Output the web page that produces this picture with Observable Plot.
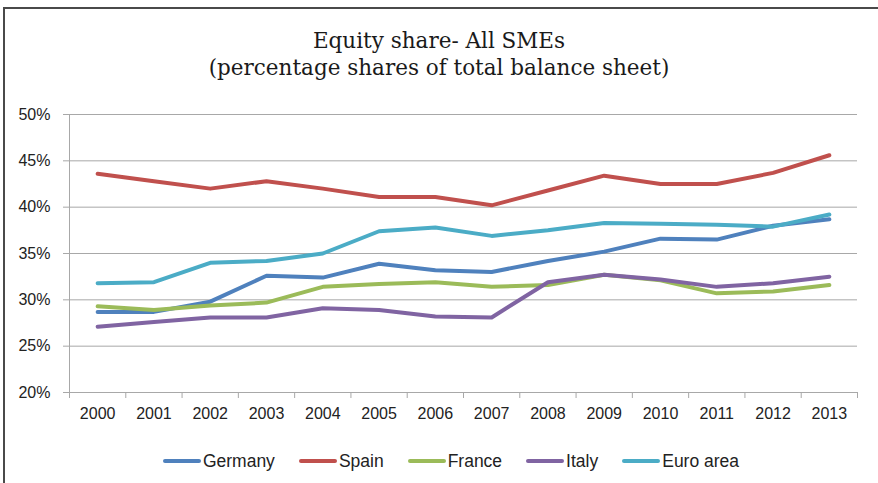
<!DOCTYPE html>
<html>
<head>
<meta charset="utf-8">
<script src="https://cdn.jsdelivr.net/npm/d3@7"></script>
<script src="https://cdn.jsdelivr.net/npm/@observablehq/plot@0.6"></script>
<style>
  html, body { margin: 0; padding: 0; background: #fff; }
  #page { position: relative; width: 878px; height: 483px; overflow: hidden; font-family: "Liberation Sans", sans-serif; }
  #frame { position: absolute; left: 3px; top: 7px; width: 900px; height: 500px; border-left: 2px solid #4a4a4a; border-top: 2px solid #4a4a4a; box-sizing: border-box; }
  #title { position: absolute; left: 0; top: 27px; width: 878px; text-align: center; font-family: "DejaVu Serif", serif; font-size: 21.5px; line-height: 27px; color: #1a1a1a; }
  #chart { position: absolute; left: 0; top: 100px; }
  #legend { position: absolute; left: 12px; top: 451px; width: 878px; height: 20px; display: flex; justify-content: center; align-items: center; font-size: 17.5px; color: #222; }
  .item { display: flex; align-items: center; margin: 0 12px; }
  .sw { width: 38px; height: 4px; border-radius: 2px; margin-right: 2px; }
</style>
</head>
<body>
<div id="page">
  <div id="frame"></div>
  <div id="title">Equity share- All SMEs<br>(percentage shares of total balance sheet)</div>
  <div id="chart"></div>
  <div id="legend"></div>
</div>
<script>
const years = [2000, 2001, 2002, 2003, 2004, 2005, 2006, 2007, 2008, 2009, 2010, 2011, 2012, 2013];
const seriesNames = ["Germany", "Spain", "France", "Italy", "Euro area"];
const germany  = [28.7, 28.7, 29.8, 32.6, 32.4, 33.9, 33.2, 33.0, 34.2, 35.2, 36.6, 36.5, 38.0, 38.7];
const spain    = [43.6, 42.8, 42.0, 42.8, 42.0, 41.1, 41.1, 40.2, 41.8, 43.4, 42.5, 42.5, 43.7, 45.6];
const france   = [29.3, 28.9, 29.4, 29.7, 31.4, 31.7, 31.9, 31.4, 31.6, 32.7, 32.1, 30.7, 30.9, 31.6];
const italy    = [27.1, 27.6, 28.1, 28.1, 29.1, 28.9, 28.2, 28.1, 31.9, 32.7, 32.2, 31.4, 31.8, 32.5];
const euroArea = [31.8, 31.9, 34.0, 34.2, 35.0, 37.4, 37.8, 36.9, 37.5, 38.3, 38.2, 38.1, 37.9, 39.2];
const yTicks = [20, 25, 30, 35, 40, 45, 50];
const colors = ["#4F81BD", "#C0504D", "#9BBB59", "#8064A2", "#4BACC6"];

const seriesValues = [germany, spain, france, italy, euroArea];
const data = seriesNames.flatMap((name, i) =>
  years.map((year, j) => ({ series: name, year, value: seriesValues[i][j] }))
);
const boundaries = [...years.map(y => y - 0.5), years[years.length - 1] + 0.5];
const gray = "#a8a8a8";

const chart = Plot.plot({
  width: 878,
  height: 332,
  marginLeft: 69,
  marginRight: 21,
  marginTop: 14,
  marginBottom: 40,
  style: { fontFamily: "'Liberation Sans', sans-serif", fontSize: "16px", color: "#222", background: "transparent" },
  x: { domain: [boundaries[0], boundaries[boundaries.length - 1]] },
  y: { domain: [20, 50] },
  color: { domain: seriesNames, range: colors },
  marks: [
    Plot.gridY({ ticks: yTicks, stroke: gray, strokeOpacity: 1 }),
    Plot.axisY({ ticks: yTicks, tickFormat: d => d + "%", tickSize: 6, tickPadding: 13, label: null, stroke: gray, fill: "#222" }),
    Plot.ruleX([boundaries[0]], { stroke: gray }),
    Plot.ruleY([20], { stroke: gray }),
    Plot.axisX({ ticks: boundaries, tickFormat: () => "", tickSize: 6, label: null, stroke: gray }),
    Plot.axisX({ ticks: years, tickFormat: d => String(d), tickSize: 0, tickPadding: 15, label: null, fill: "#222" }),
    Plot.line(data, { x: "year", y: "value", z: "series", stroke: "series", strokeWidth: 4, strokeLinejoin: "round", strokeLinecap: "round" })
  ]
});
document.getElementById("chart").appendChild(chart);

const legend = document.getElementById("legend");
seriesNames.forEach((name, i) => {
  const item = document.createElement("div");
  item.className = "item";
  const sw = document.createElement("span");
  sw.className = "sw";
  sw.style.background = colors[i];
  const label = document.createElement("span");
  label.textContent = name;
  item.appendChild(sw);
  item.appendChild(label);
  legend.appendChild(item);
});
</script>
</body>
</html>
